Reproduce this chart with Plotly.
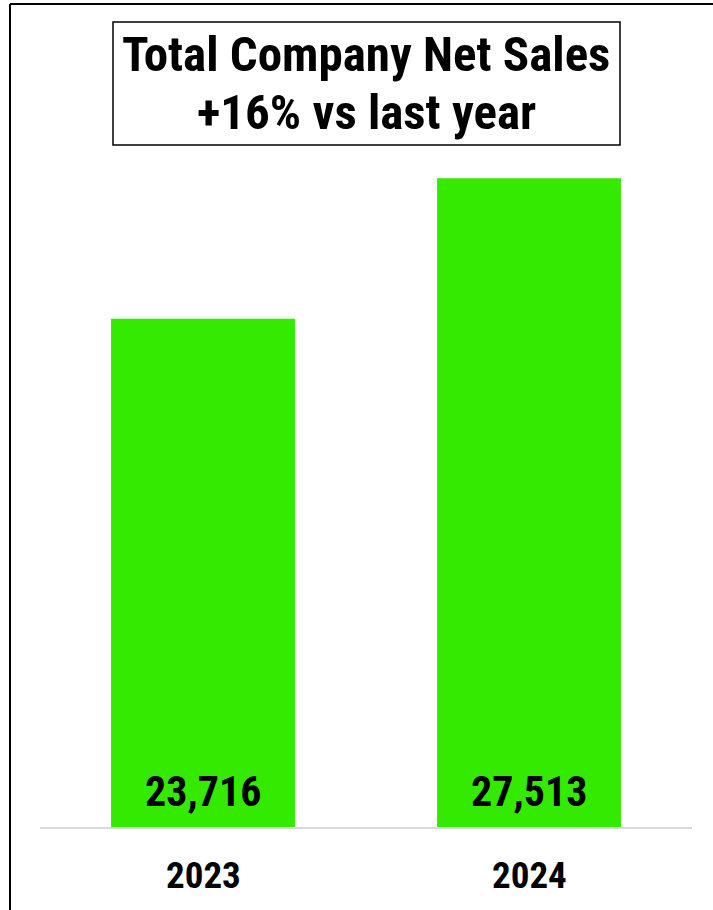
import plotly.graph_objects as go

years = ["2023", "2024"]
net_sales = [23716, 27513]
title_lines = ["Total Company Net Sales", "+16% vs last year"]

W, H = 713, 910
L, R, T, B = 40, 21, 86, 83
pw, ph = W - L - R, H - T - B

def px(x):
    return (x - L) / pw

def py(y):
    return (H - B - y) / ph

FONT = "Liberation Sans Narrow, Roboto Condensed, Noto Sans, sans-serif"
pos = list(range(len(years)))

fig = go.Figure(go.Bar(
    x=pos, y=net_sales,
    marker=dict(color="#33EA00", line=dict(width=0)),
    textposition="none",
    hoverinfo="skip",
))

for p, v in zip(pos, net_sales):
    fig.add_annotation(x=p, y=10000, yref="y", xref="x", text=f"<b>{v:,}</b>",
                       showarrow=False, yanchor="middle", yshift=36,
                       font=dict(family=FONT, size=42, color="black"))

for p, yr in zip(pos, years):
    fig.add_annotation(x=p, y=py(875), yref="paper", xref="x", text=f"<b>{yr}</b>",
                       showarrow=False, yanchor="middle",
                       font=dict(family=FONT, size=37, color="black"))

fig.update_layout(
    width=W, height=H,
    margin=dict(l=L, r=R, t=T, b=B, autoexpand=False),
    paper_bgcolor="white", plot_bgcolor="white",
    showlegend=False,
    bargap=0.436,
    xaxis=dict(range=[-0.5, len(years) - 0.5], showgrid=False, showline=True,
               linecolor="#D9D9D9", linewidth=2, zeroline=False,
               ticks="", showticklabels=False, fixedrange=True, automargin=False),
    yaxis=dict(range=[10000, 30000], showgrid=False, showticklabels=False,
               zeroline=False, showline=False, fixedrange=True, automargin=False),
    shapes=[
        dict(type="line", xref="paper", yref="paper", x0=px(10), x1=px(716), y0=py(4), y1=py(4),
             line=dict(color="black", width=2)),
        dict(type="line", xref="paper", yref="paper", x0=px(10), x1=px(10), y0=py(4), y1=py(914),
             line=dict(color="black", width=2)),
        dict(type="rect", xref="paper", yref="paper", x0=px(113), x1=px(620), y0=py(22), y1=py(145),
             line=dict(color="black", width=1.5), fillcolor="white"),
    ],
)

fig.add_annotation(xref="paper", yref="paper", x=px(366), y=py(55), text=f"<b>{title_lines[0]}</b>",
                   showarrow=False, yanchor="middle", font=dict(family=FONT, size=49, color="black"))
fig.add_annotation(xref="paper", yref="paper", x=px(366), y=py(112), text=f"<b>{title_lines[1]}</b>",
                   showarrow=False, yanchor="middle", font=dict(family=FONT, size=49, color="black"))

fig.write_html("out.html", config={"displayModeBar": False},
               post_script="document.body.style.margin='0';")
